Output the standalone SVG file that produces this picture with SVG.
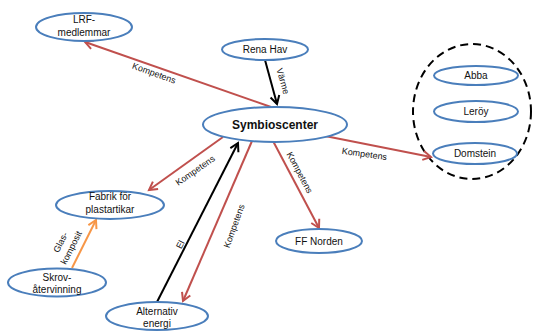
<svg xmlns="http://www.w3.org/2000/svg" width="533" height="331" viewBox="0 0 533 331">
<style>
.node ellipse{fill:#fff;stroke:#4a7ebb;stroke-width:2}
text{font-family:"Liberation Sans",Arial,sans-serif;fill:#111}
.nt{font-size:10px;text-anchor:middle}
.lb{font-size:9px;text-anchor:middle}
.red{stroke:#c0504d;stroke-width:2;fill:none;marker-end:url(#ar)}
.blk{stroke:#000;stroke-width:2;fill:none;marker-end:url(#ab)}
.org{stroke:#f79646;stroke-width:2;fill:none;marker-end:url(#ao)}
</style>
<defs>
<marker id="ar" markerUnits="userSpaceOnUse" markerWidth="12" markerHeight="12" refX="9" refY="5" orient="auto" viewBox="0 0 12 10"><path d="M1,0.5 L9,5 L1,9.5" fill="none" stroke="#c0504d" stroke-width="2"/></marker>
<marker id="ab" markerUnits="userSpaceOnUse" markerWidth="12" markerHeight="12" refX="9" refY="5" orient="auto" viewBox="0 0 12 10"><path d="M1,0.5 L9,5 L1,9.5" fill="none" stroke="#000" stroke-width="2"/></marker>
<marker id="ao" markerUnits="userSpaceOnUse" markerWidth="12" markerHeight="12" refX="9" refY="5" orient="auto" viewBox="0 0 12 10"><path d="M1,0.5 L9,5 L1,9.5" fill="none" stroke="#f79646" stroke-width="2"/></marker>
</defs>

<ellipse id="group-circle" cx="472" cy="111.5" rx="59" ry="67.5" fill="none" stroke="#000" stroke-width="2" stroke-dasharray="8,5"/>

<g id="connectors">
<line class="red" x1="271" y1="107" x2="85" y2="42"/>
<line class="blk" x1="265" y1="60" x2="277" y2="104"/>
<line class="red" x1="320" y1="135" x2="431" y2="157"/>
<line class="red" x1="273" y1="141" x2="319" y2="228"/>
<line class="red" x1="223" y1="137" x2="149" y2="190"/>
<line class="blk" x1="157" y1="302" x2="238" y2="143"/>
<line class="red" x1="252" y1="141" x2="183" y2="301"/>
<line class="org" x1="72" y1="268" x2="96" y2="220"/>
<text class="lb" transform="translate(153,76) rotate(20)">Kompetens</text>
<text class="lb" transform="translate(280,82) rotate(74)">Värme</text>
<text class="lb" transform="translate(364,157) rotate(8)">Kompetens</text>
<text class="lb" transform="translate(297,174) rotate(62)">Kompetens</text>
<text class="lb" transform="translate(197,173) rotate(-35)">Kompetens</text>
<text class="lb" transform="translate(183,246) rotate(-63)">El</text>
<text class="lb" transform="translate(237,227) rotate(-70)">Kompetens</text>
<text class="lb" transform="translate(66,245) rotate(-63)"><tspan x="0" y="-3">Glas-</tspan><tspan x="0" y="9">komposit</tspan></text>
</g>

<g id="lrf" class="node"><ellipse cx="84" cy="27" rx="48" ry="14"/><text class="nt" x="84" y="23">LRF-</text><text class="nt" x="84" y="35.5">medlemmar</text></g>
<g id="rena-hav" class="node"><ellipse cx="265" cy="49.5" rx="43" ry="10.5"/><text class="nt" x="265" y="53">Rena Hav</text></g>
<g id="symbioscenter" class="node"><ellipse cx="275" cy="124.5" rx="72" ry="17.5"/><text x="275" y="129" text-anchor="middle" font-size="12" font-weight="bold">Symbioscenter</text></g>
<g id="abba" class="node"><ellipse cx="476" cy="75.5" rx="42" ry="9.5"/><text class="nt" x="476" y="79">Abba</text></g>
<g id="leroy" class="node"><ellipse cx="476" cy="111.5" rx="42" ry="10.5"/><text class="nt" x="476" y="115">Leröy</text></g>
<g id="domstein" class="node"><ellipse cx="475" cy="153.5" rx="42" ry="10.5"/><text class="nt" x="475" y="157">Domstein</text></g>
<g id="fabrik" class="node"><ellipse cx="110" cy="205" rx="54" ry="14"/><text class="nt" x="110" y="200">Fabrik för</text><text class="nt" x="110" y="213">plastartikar</text></g>
<g id="skrov" class="node"><ellipse cx="57" cy="282.5" rx="49" ry="14"/><text class="nt" x="57" y="281">Skrov-</text><text class="nt" x="57" y="293">återvinning</text></g>
<g id="alternativ" class="node"><ellipse cx="157" cy="316" rx="51" ry="14"/><text class="nt" x="157" y="315">Alternativ</text><text class="nt" x="157" y="327">energi</text></g>
<g id="ff-norden" class="node"><ellipse cx="319" cy="241" rx="43" ry="12"/><text class="nt" x="319" y="245">FF Norden</text></g>
</svg>
